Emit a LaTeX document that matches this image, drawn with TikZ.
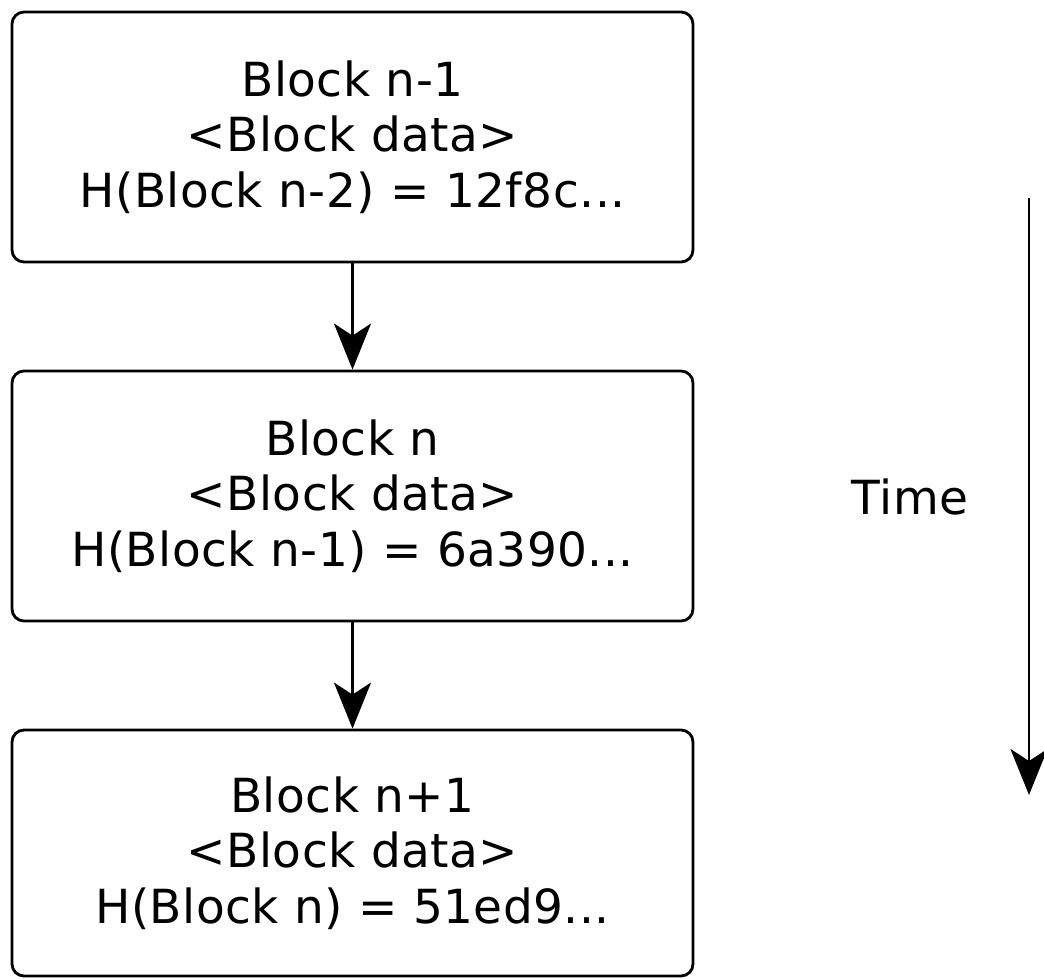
\documentclass[tikz,border=0pt]{standalone}
\usepackage{fontspec}
\setmainfont{DejaVu Sans}[LetterSpace=1]
\usetikzlibrary{arrows.meta}
\begin{document}
\begin{tikzpicture}[x=1pt,y=-1pt,
  blockbox/.style={draw=black, line width=2.8pt, rounded corners=12pt,
    minimum width=681pt, inner sep=0pt, align=center,
    font=\fontsize{47}{55.5}\selectfont},
  link/.style={draw=black, line width=2.8pt,
    -{Stealth[length=46pt,width=37pt,inset=12pt]}},
  label/.style={font=\fontsize{47}{55.5}\selectfont, inner sep=0pt}
]
\useasboundingbox (0,0) rectangle (1044,978);
\node[blockbox, minimum height=250pt] (b1) at (352.5,137)
  {Block n-1\\<Block data>\\H(Block n-2) = 12f8c...};
\node[blockbox, minimum height=250pt] (b2) at (352.5,496)
  {Block n\\<Block data>\\H(Block n-1) = 6a390...};
\node[blockbox, minimum height=246pt] (b3) at (352.5,853)
  {Block n+1\\<Block data>\\H(Block n) = 51ed9...};
\draw[link] (b1.south) -- (b2.north);
\draw[link] (b2.south) -- (b3.north);
\coordinate (t1) at (1029,198);
\coordinate (t2) at (1029,795);
\draw[link] (t1) -- (t2);
\node[label] (time) at (910,497) {Time};
\end{tikzpicture}
\end{document}
